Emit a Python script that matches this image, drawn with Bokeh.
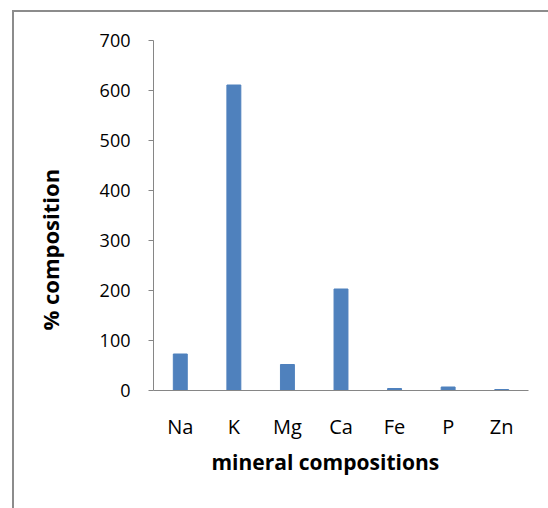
from bokeh.embed import file_html
from bokeh.models import (ColumnDataSource, FactorRange, FixedTicker,
                          InlineStyleSheet, Range1d, Title)
from bokeh.plotting import figure
from bokeh.resources import INLINE

# mineral content per element
minerals = ["Na", "K", "Mg", "Ca", "Fe", "P", "Zn"]
composition = [73, 611, 52, 203, 4, 7, 2]
y_ticks = [0, 100, 200, 300, 400, 500, 600, 700]

FONT = "Open Sans"
AXIS_GREY = "#868686"
BAR_BLUE = "#4F81BD"

source = ColumnDataSource(data=dict(mineral=minerals, value=composition))

p = figure(
    width=548, height=508,
    x_range=FactorRange(factors=minerals, range_padding=0),
    y_range=Range1d(0, 700),
    output_backend="svg", toolbar_location=None,
    min_border_left=152, min_border_right=20,
    min_border_top=40, min_border_bottom=118,
)
p.outline_line_color = None
p.xgrid.grid_line_color = None
p.ygrid.grid_line_color = None

p.vbar(x="mineral", top="value", width=0.26, source=source,
       fill_color=BAR_BLUE, line_color=BAR_BLUE)

# value axis
p.yaxis.ticker = FixedTicker(ticks=y_ticks)
p.yaxis.axis_line_color = AXIS_GREY
p.yaxis.major_tick_line_color = AXIS_GREY
p.yaxis.major_tick_out = 5
p.yaxis.major_tick_in = 0
p.yaxis.minor_tick_line_color = None
p.yaxis.major_label_text_font = FONT
p.yaxis.major_label_text_font_size = "18px"
p.yaxis.major_label_text_color = "black"
p.yaxis.major_label_standoff = 18

# category axis
p.xaxis.axis_line_color = AXIS_GREY
p.xaxis.major_tick_line_color = None
p.xaxis.major_tick_out = 0
p.xaxis.major_tick_in = 0
p.xaxis.minor_tick_line_color = None
p.xaxis.major_label_text_font = FONT
p.xaxis.major_label_text_font_size = "20px"
p.xaxis.major_label_text_color = "black"
p.xaxis.major_label_standoff = 22

# axis titles, set in the side panels
p.add_layout(Title(text="% composition", align="left", offset=60,
                   text_font=FONT, text_font_size="22px",
                   text_font_style="bold", text_color="black",
                   standoff=64), "left")
p.add_layout(Title(text="mineral compositions", align="left", offset=58,
                   text_font=FONT, text_font_size="21px",
                   text_font_style="bold", text_color="black",
                   standoff=6), "below")

# chart-area border: top and left edges in grey
p.stylesheets = [InlineStyleSheet(css="""
:host { position: relative; }
:host::after {
  content: "";
  position: absolute;
  left: 12px; top: 10px; right: -10px; bottom: -10px;
  border-top: 2px solid #8c8c8c;
  border-left: 2px solid #8c8c8c;
  pointer-events: none;
}
""")]

open("out.html", "w").write(file_html(p, INLINE))
